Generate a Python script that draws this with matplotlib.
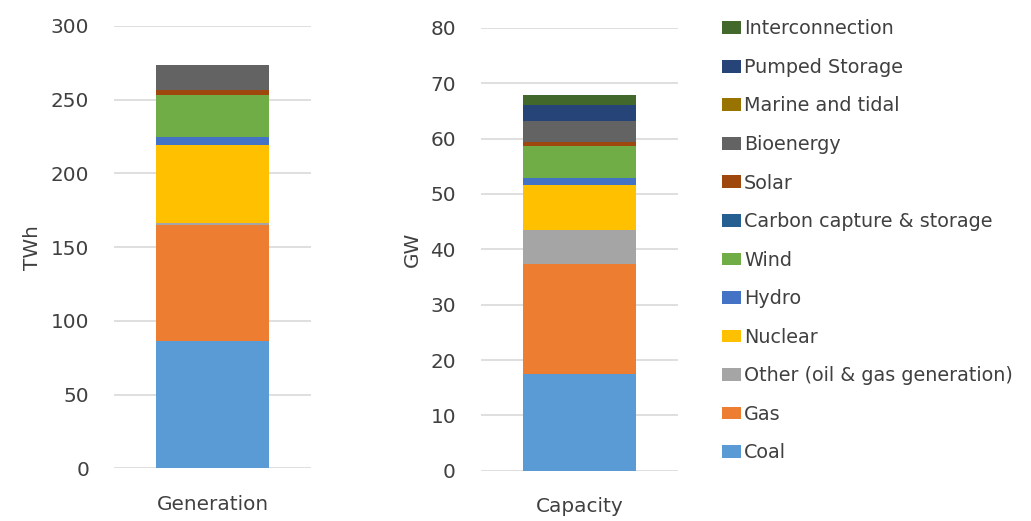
import matplotlib.pyplot as plt
import numpy as np

# energy sources, bottom of the stack first
sources = ['Coal', 'Gas', 'Other (oil & gas generation)', 'Nuclear', 'Hydro',
           'Wind', 'Carbon capture & storage', 'Solar', 'Bioenergy',
           'Marine and tidal', 'Pumped Storage', 'Interconnection']
colors = ['#5B9BD5', '#ED7D31', '#A5A5A5', '#FFC000', '#4472C4', '#70AD47',
          '#255E91', '#9E480E', '#636363', '#997300', '#264478', '#43682B']

generation_twh = [86.6, 78.7, 1.4, 52.7, 5.4, 28.6, 0.0, 2.9, 17.3, 0.0, 0.0, 0.0]
capacity_gw = [17.5, 19.8, 6.1, 8.3, 1.1, 5.8, 0.0, 0.7, 3.9, 0.0, 2.9, 1.8]

plt.rcParams['font.family'] = ['DejaVu Sans']
txt = '#404040'

fig = plt.figure(figsize=(10.31, 5.21), dpi=100)
ax1 = fig.add_axes([0.1106, 0.1011, 0.191, 0.849])
ax2 = fig.add_axes([0.4665, 0.0965, 0.191, 0.850])


def stacked(ax, values, label, ylabel, ymax, step):
    bottom = 0.0
    bars = []
    for v, c in zip(values, colors):
        bars.append(ax.bar([0], [v], bottom=bottom, width=0.57, color=c, zorder=3))
        bottom += v
    ax.set_xlim(-0.5, 0.5)
    ax.set_ylim(0, ymax)
    ax.set_yticks(np.arange(0, ymax + 1, step))
    ax.set_xticks([0])
    ax.set_xticklabels([label])
    ax.set_ylabel(ylabel, fontsize=14.4, color=txt, labelpad=6)
    ax.grid(axis='y', color='#D9D9D9', lw=1.2, zorder=0)
    for s in ax.spines.values():
        s.set_visible(False)
    ax.tick_params(axis='both', length=0, labelsize=14.4, colors=txt)
    ax.tick_params(axis='y', pad=18)
    ax.tick_params(axis='x', pad=19)
    return bars


bars = stacked(ax1, generation_twh, 'Generation', 'TWh', 300, 50)
stacked(ax2, capacity_gw, 'Capacity', 'GW', 80, 10)

handles = [b[0] for b in bars][::-1]
labels = sources[::-1]
leg = fig.legend(handles, labels, loc='upper left', bbox_to_anchor=(0.6836, 0.996),
                 frameon=False, fontsize=13.8, labelspacing=1.02,
                 handlelength=1.0, handleheight=0.65, handletextpad=0.15)
for t in leg.get_texts():
    t.set_color(txt)

fig.savefig('out.png', dpi=100)
